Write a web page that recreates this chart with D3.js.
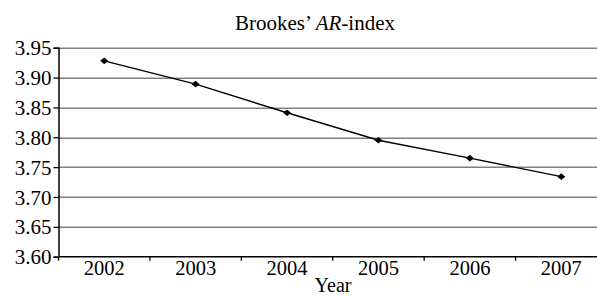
<!DOCTYPE html>
<html>
<head>
<meta charset="utf-8">
<script src="https://cdn.jsdelivr.net/npm/d3@7"></script>
<style>
  body { margin: 0; background: #fff; }
  text { font-family: "Liberation Serif", "Times New Roman", serif; fill: #000; }
</style>
</head>
<body>
<svg id="chart" width="597" height="296"></svg>
<script>
var years = ["2002", "2003", "2004", "2005", "2006", "2007"];
var arIndex = [3.928, 3.889, 3.841, 3.795, 3.765, 3.734];
var yTicks = [3.60, 3.65, 3.70, 3.75, 3.80, 3.85, 3.90, 3.95];

var margin = {top: 47.7, left: 58.5};
var plotW = 548.5, plotH = 209;

var svg = d3.select("#chart");
var g = svg.append("g")
    .attr("transform", "translate(" + margin.left + "," + margin.top + ")");

var x = d3.scaleBand().domain(years).range([0, plotW]);
var y = d3.scaleLinear().domain([3.60, 3.95]).range([plotH, 0]);

// gridlines
g.selectAll(".grid")
    .data(yTicks.slice(1))
    .enter().append("line")
    .attr("x1", 0).attr("x2", plotW)
    .attr("y1", function(d) { return Math.round(y(d)) + 0.5; })
    .attr("y2", function(d) { return Math.round(y(d)) + 0.5; })
    .attr("stroke", "#808080")
    .attr("stroke-width", 1.4);

// y axis
var yAxis = d3.axisLeft(y).tickValues(yTicks).tickFormat(d3.format(".2f")).tickSize(5).tickPadding(2);
var ya = g.append("g").call(yAxis);
ya.attr("font-size", null).attr("font-family", null);
ya.select(".domain").attr("stroke", "#000").attr("stroke-width", 1.5);
ya.selectAll(".tick line").attr("stroke", "#000").attr("stroke-width", 1.3);
ya.selectAll("text").style("font-size", "21px").attr("dy", "0.34em");

// x axis
var xa = g.append("g").attr("transform", "translate(0," + plotH + ")");
xa.append("line").attr("x1", 0).attr("x2", plotW).attr("stroke", "#000").attr("stroke-width", 1.5);
xa.selectAll(".xt")
    .data(years)
    .enter().append("line")
    .attr("x1", function(d) { return x(d); })
    .attr("x2", function(d) { return x(d); })
    .attr("y1", 0).attr("y2", 4)
    .attr("stroke", "#000").attr("stroke-width", 1.3);
xa.selectAll(".xl")
    .data(years)
    .enter().append("text")
    .attr("x", function(d) { return x(d) + x.bandwidth() / 2; })
    .attr("y", 18.5)
    .attr("text-anchor", "middle")
    .style("font-size", "20.5px")
    .text(function(d) { return d; });

// line
var line = d3.line()
    .x(function(d, i) { return x(years[i]) + x.bandwidth() / 2; })
    .y(function(d) { return y(d); });

g.append("path")
    .datum(arIndex)
    .attr("d", line)
    .attr("fill", "none")
    .attr("stroke", "#000")
    .attr("stroke-width", 1.4);

// diamond markers (rotated squares, a bit wider than tall)
g.selectAll(".pt")
    .data(arIndex)
    .enter().append("path")
    .attr("d", d3.symbol().type(d3.symbolSquare).size(22))
    .attr("transform", function(d, i) {
        return "translate(" + (x(years[i]) + x.bandwidth() / 2) + "," + y(d) + ") scale(1.2,1) rotate(45)";
    })
    .attr("fill", "#000");

// title
var title = svg.append("text")
    .attr("x", 315).attr("y", 30)
    .attr("text-anchor", "middle")
    .style("font-size", "21px");
title.append("tspan").text("Brookes\u2019 ");
title.append("tspan").attr("font-style", "italic").text("AR");
title.append("tspan").text("-index");

// x label
svg.append("text")
    .attr("x", 333).attr("y", 292)
    .attr("text-anchor", "middle")
    .style("font-size", "20px")
    .text("Year");
</script>
</body>
</html>
